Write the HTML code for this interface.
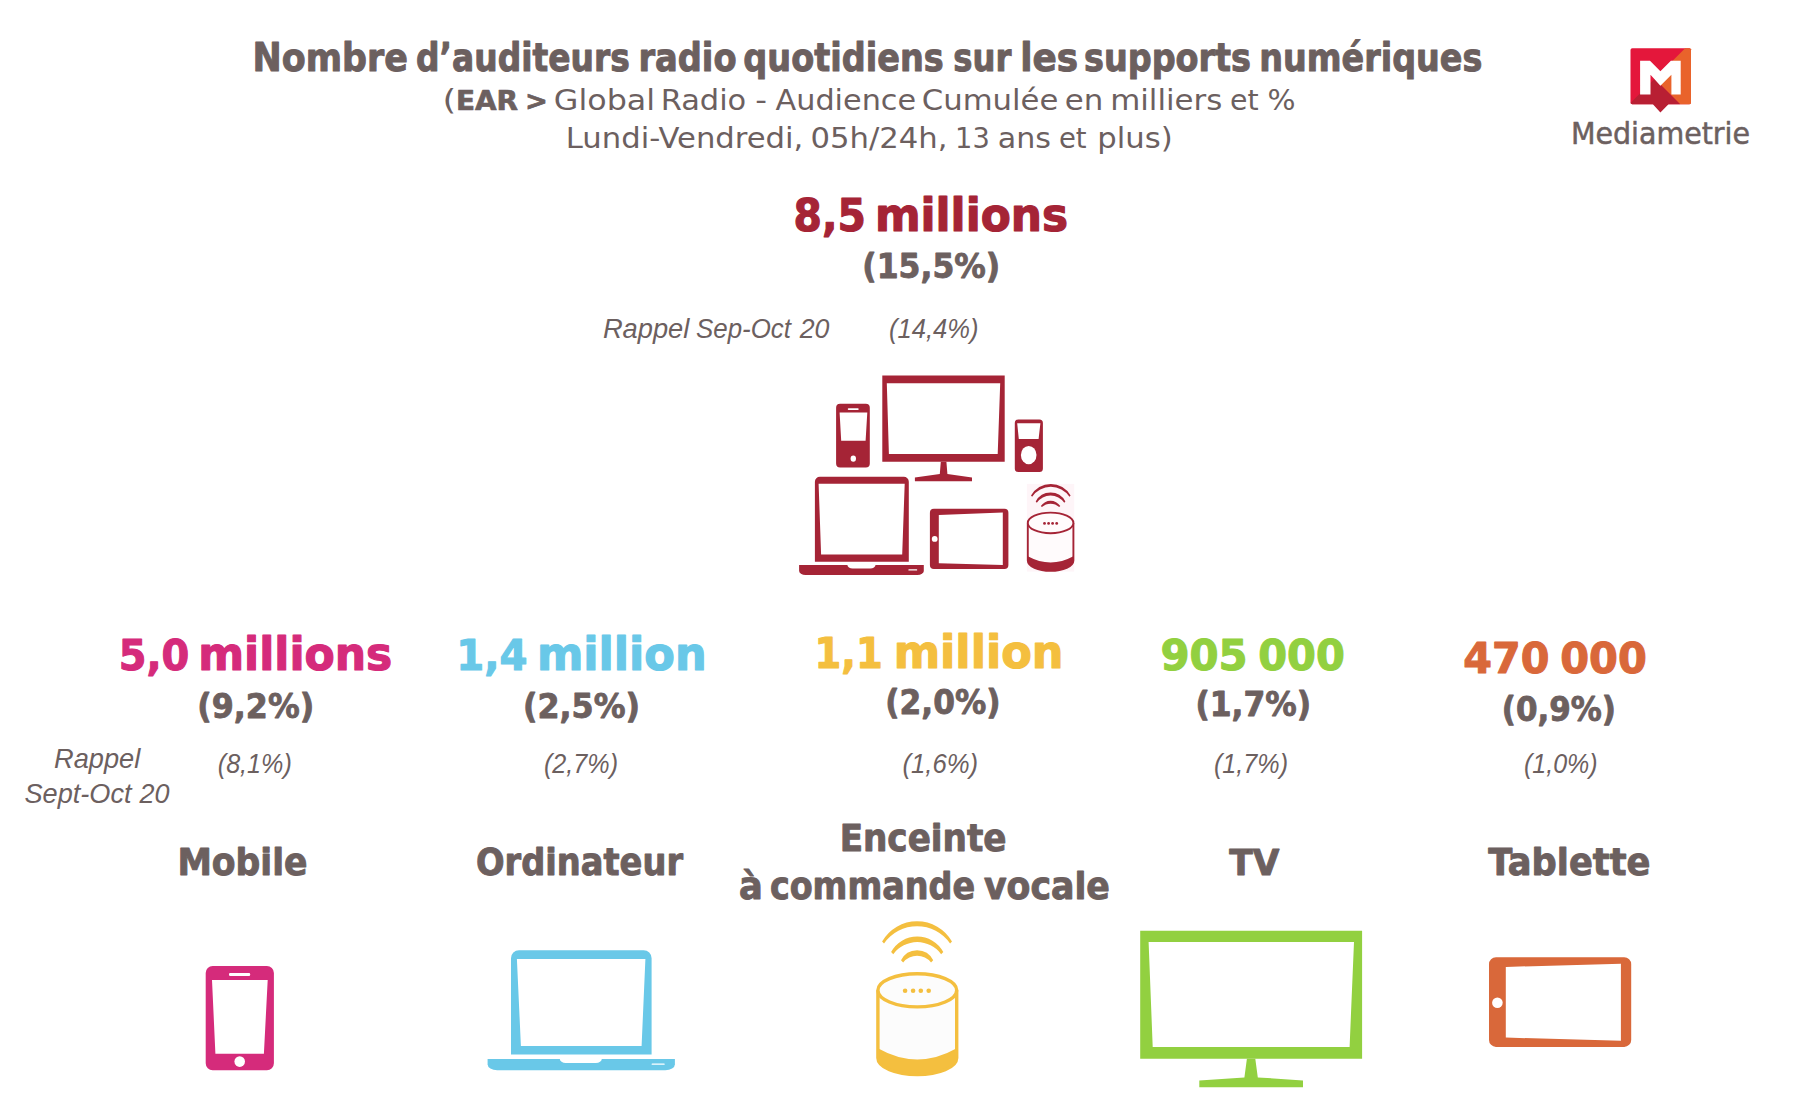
<!DOCTYPE html>
<html lang="fr"><head><meta charset="utf-8"><title>Nombre d’auditeurs radio quotidiens sur les supports numériques</title>
<style>html,body{margin:0;padding:0;background:#fff;}body{width:1800px;height:1120px;overflow:hidden;font-family:"Liberation Sans","DejaVu Sans",sans-serif;}svg{display:block}text{white-space:pre}</style>
</head><body>
<svg width="1800" height="1120" viewBox="0 0 1800 1120">
<rect width="1800" height="1120" fill="#fff"/>
<g id="icons">
<path fill="#A52436" fill-rule="evenodd" d="M882.3,375.4 L1004.7,375.4 L1004.7,461.7 L882.3,461.7ZM886.8,383.2 L1000.2,383.2 L997.7,454.1 L888.9,454.1Z"/><polygon fill="#A52436" points="940.8,461.7 946.4,461.7 947.4,474.0 972.0,477.6 972.0,481.2 914.9,481.2 914.9,477.6 939.8,474.0"/>
<path fill="#A52436" fill-rule="evenodd" d="M840.1,403.7H865.8A4,4 0 0 1 869.8,407.7V463.4A4,4 0 0 1 865.8,467.4H840.1A4,4 0 0 1 836.1,463.4V407.7A4,4 0 0 1 840.1,403.7ZM839.6,412.4 L867.3,412.4 L865.6,440.7 L841.2,440.7ZM848.6,408.2H857.9A0.8,0.8 0 0 1 858.7,409.0V409.2A0.8,0.8 0 0 1 857.9,410.0H848.6A0.8,0.8 0 0 1 847.8,409.2V409.0A0.8,0.8 0 0 1 848.6,408.2Z"/><ellipse cx="853.3" cy="458.6" rx="2.7" ry="3.2" fill="#fff"/>
<path fill="#A52436" fill-rule="evenodd" d="M1018.3,419.4H1039.4A3.5,3.5 0 0 1 1042.9,422.9V468.4A3.5,3.5 0 0 1 1039.4,471.9H1018.3A3.5,3.5 0 0 1 1014.8,468.4V422.9A3.5,3.5 0 0 1 1018.3,419.4ZM1017.2,423.3 L1040.4,423.3 L1038.6,439.1 L1018.8,439.1Z"/><ellipse cx="1028.7" cy="455.1" rx="7.8" ry="9.2" fill="#fff"/>
<path fill="#A52436" fill-rule="evenodd" d="M814.9,561.7V481.7A5,5 0 0 1 819.9,476.7H903.8A5,5 0 0 1 908.8,481.7V561.7ZM818.6,483.8 L904.7,483.8 L902.2,554.5 L821.1,554.5Z"/><path fill="#A52436" d="M799.1,565.0H923.8V571.0A6.4,4 0 0 1 917.4,575.0H805.5A6.4,4 0 0 1 799.1,571.0Z"/><path fill="#fff" d="M847.4,564.5H875.5V565A5.2,3.5 0 0 1 870.2,568.5H852.6A5.2,3.5 0 0 1 847.4,565Z"/><rect fill="#fff" x="908.4" y="569.3" width="8.8" height="1.2" rx="0.5"/>
<path fill="#A52436" fill-rule="evenodd" d="M933.9,508.7H1004.4A4,4 0 0 1 1008.4,512.7V565.1A4,4 0 0 1 1004.4,569.1H933.9A4,4 0 0 1 929.9,565.1V512.7A4,4 0 0 1 933.9,508.7ZM938.8,515.1 L1002.8,512.4 L1002.8,565.0 L938.8,563.3Z"/><circle cx="934.7" cy="538.9" r="2.9" fill="#fff"/>
<rect x="1026.9" y="483.9" width="47.3" height="87.7" fill="#FEF5F8"/><path fill="#FFFBFC" d="M1027.8,522.9A22.8,10.3 0 0 1 1073.3999999999999,522.9V560.6A22.8,10.3 0 0 1 1027.8,560.6Z"/><path fill="#A52436" d="M1027.8,556.2Q1050.6,568.5999999999999 1073.3999999999999,556.2V560.6A22.8,10.3 0 0 1 1027.8,560.6Z"/><path fill="none" stroke="#A52436" stroke-width="1.9" d="M1027.8,522.9V560.6A22.8,10.3 0 0 0 1073.3999999999999,560.6V522.9"/><ellipse cx="1050.6" cy="522.9" rx="22.8" ry="10.3" fill="#FFFBFC" stroke="#A52436" stroke-width="1.9"/><circle cx="1044.5" cy="523.4" r="1.4" fill="#A52436"/><circle cx="1048.6" cy="523.4" r="1.4" fill="#A52436"/><circle cx="1052.6" cy="523.4" r="1.4" fill="#A52436"/><circle cx="1056.7" cy="523.4" r="1.4" fill="#A52436"/><path fill="#A52436" d="M1031.00,495.60A22.60,22.60 0 0 1 1070.60,495.60L1069.48,496.72A22.56,22.56 0 0 0 1032.12,496.72Z"/><path fill="#A52436" d="M1035.70,501.60A16.75,16.75 0 0 1 1065.40,501.60L1064.28,502.72A16.68,16.68 0 0 0 1036.82,502.72Z"/><path fill="#A52436" d="M1040.80,506.00A11.74,11.74 0 0 1 1060.30,506.00L1059.18,507.12A12.62,12.62 0 0 0 1041.92,507.12Z"/>
<path fill="#D52B7B" fill-rule="evenodd" d="M212.7,966.0H266.9A7,7 0 0 1 273.9,973.0V1063.3A7,7 0 0 1 266.9,1070.3H212.7A7,7 0 0 1 205.7,1063.3V973.0A7,7 0 0 1 212.7,966.0ZM212.0,980.0 L267.7,980.0 L263.9,1053.8 L215.4,1053.8ZM230.2,972.9H249.0A1.2,1.2 0 0 1 250.2,974.1V974.8A1.2,1.2 0 0 1 249.0,976.0H230.2A1.2,1.2 0 0 1 229.0,974.8V974.1A1.2,1.2 0 0 1 230.2,972.9Z"/><ellipse cx="239.7" cy="1061.6" rx="5.3" ry="5.3" fill="#fff"/>
<path fill="#69C8E8" fill-rule="evenodd" d="M511.0,1054.4V958.2A8,8 0 0 1 519.0,950.2H643.6A8,8 0 0 1 651.6,958.2V1054.4ZM516.9,958.9 L645.4,958.9 L641.6,1046.0 L520.9,1046.0Z"/><path fill="#69C8E8" d="M487.6,1059.0H674.9V1064.3A9.6,6 0 0 1 665.3,1070.3H497.2A9.6,6 0 0 1 487.6,1064.3Z"/><path fill="#fff" d="M559.8,1058.5H601.8V1059A6.0,4.0 0 0 1 595.8,1063H565.8A6.0,4.0 0 0 1 559.8,1059Z"/><rect fill="#fff" x="651.6" y="1063.4" width="13.1" height="1.3" rx="0.5"/>
<path fill="#FCFCFC" d="M877.9,990.3A39.4,16.6 0 0 1 956.6999999999999,990.3V1058.0A39.4,16.6 0 0 1 877.9,1058.0Z"/><path fill="#F4BF3F" d="M877.9,1048.2Q917.3,1070.6000000000001 956.6999999999999,1048.2V1058.0A39.4,16.6 0 0 1 877.9,1058.0Z"/><path fill="none" stroke="#F4BF3F" stroke-width="3.4" d="M877.9,990.3V1058.0A39.4,16.6 0 0 0 956.6999999999999,1058.0V990.3"/><ellipse cx="917.3" cy="990.3" rx="39.4" ry="16.6" fill="#FCFCFC" stroke="#F4BF3F" stroke-width="3.4"/><circle cx="905.1" cy="990.8" r="2.3" fill="#F4BF3F"/><circle cx="913.1" cy="990.8" r="2.3" fill="#F4BF3F"/><circle cx="920.8" cy="990.8" r="2.3" fill="#F4BF3F"/><circle cx="928.7" cy="990.8" r="2.3" fill="#F4BF3F"/><path fill="#F4BF3F" d="M882.10,941.50A40.24,40.24 0 0 1 952.00,941.50L950.08,943.42A40.27,40.27 0 0 0 884.02,943.42Z"/><path fill="#F4BF3F" d="M891.10,952.00A29.72,29.72 0 0 1 943.30,952.00L941.14,954.16A29.81,29.81 0 0 0 893.26,954.16Z"/><path fill="#F4BF3F" d="M901.00,960.30A17.88,17.88 0 0 1 933.20,960.30L931.04,962.46A17.93,17.93 0 0 0 903.16,962.46Z"/>
<path fill="#92D040" fill-rule="evenodd" d="M1140.2,930.8 L1362.1,930.8 L1362.1,1058.7 L1140.2,1058.7ZM1148.6,942.0 L1354.0,942.0 L1349.6,1046.9 L1152.7,1046.9Z"/><polygon fill="#92D040" points="1246.9,1058.7 1255.3,1058.7 1257.8,1077.4 1303.0,1080.5 1303.0,1087.3 1199.3,1087.3 1199.3,1080.5 1244.4,1077.4"/>
<path fill="#D9683A" fill-rule="evenodd" d="M1496.0,957.3H1624.2A7,7 0 0 1 1631.2,964.3V1039.9A7,7 0 0 1 1624.2,1046.9H1496.0A7,7 0 0 1 1489.0,1039.9V964.3A7,7 0 0 1 1496.0,957.3ZM1505.8,966.9 L1620.9,963.8 L1620.9,1040.7 L1505.8,1037.6Z"/><circle cx="1497.4" cy="1002.7" r="5.3" fill="#fff"/>
<path fill="#E4173B" d="M1632.3,48.3H1689.2A1.8,1.8 0 0 1 1691.0,50.1V102.5A1.8,1.8 0 0 1 1689.2,104.3H1632.3A1.8,1.8 0 0 1 1630.5,102.5V50.1A1.8,1.8 0 0 1 1632.3,48.3Z"/><polygon fill="#E9632B" points="1654.6,78.8 1685.1,48.3 1690.0,48.3 1691.0,49.3 1691.0,103.3 1690.0,104.3 1680.1,104.3"/><polygon fill="#B81F33" points="1654.6,78.8 1680.1,104.3 1668.5,104.3 1660.4,112.4 1652.9,104.3 1632.0,104.3 1630.5,102.9"/><polygon fill="#fff" points="1640.1,60.8 1650.0,60.8 1660.4,71.2 1670.9,60.8 1680.7,60.8 1680.7,94.4 1671.4,94.4 1671.4,74.7 1660.4,85.7 1650.5,74.7 1650.5,94.4 1640.1,94.4"/>
</g>
<g id="texts">
<text id="title" y="71.00" font-family="'DejaVu Sans', 'Liberation Sans', sans-serif" fill="#6C605F" stroke-linejoin="round"><tspan id="title_0" x="252.53" textLength="155.40" lengthAdjust="spacingAndGlyphs" font-size="38.46" font-weight="bold" stroke="#6C605F" stroke-width="1.00">Nombre</tspan> <tspan id="title_1" x="416.09" textLength="213.62" lengthAdjust="spacingAndGlyphs" font-size="39.04" font-weight="bold" stroke="#6C605F" stroke-width="1.02">d’auditeurs</tspan> <tspan id="title_2" x="638.41" textLength="98.14" lengthAdjust="spacingAndGlyphs" font-size="39.04" font-weight="bold" stroke="#6C605F" stroke-width="1.02">radio</tspan> <tspan id="title_3" x="743.29" textLength="200.42" lengthAdjust="spacingAndGlyphs" font-size="39.04" font-weight="bold" stroke="#6C605F" stroke-width="1.02">quotidiens</tspan> <tspan id="title_4" x="953.25" textLength="58.05" lengthAdjust="spacingAndGlyphs" font-size="39.04" font-weight="bold" stroke="#6C605F" stroke-width="1.02">sur</tspan> <tspan id="title_5" x="1020.31" textLength="57.89" lengthAdjust="spacingAndGlyphs" font-size="39.04" font-weight="bold" stroke="#6C605F" stroke-width="1.02">les</tspan> <tspan id="title_6" x="1083.99" textLength="167.02" lengthAdjust="spacingAndGlyphs" font-size="39.04" font-weight="bold" stroke="#6C605F" stroke-width="1.02">supports</tspan> <tspan id="title_7" x="1259.26" textLength="223.06" lengthAdjust="spacingAndGlyphs" font-size="39.04" font-weight="bold" stroke="#6C605F" stroke-width="1.02">numériques</tspan></text>
<text id="l2" y="110.00" font-family="'DejaVu Sans', 'Liberation Sans', sans-serif" fill="#6C605F" stroke-linejoin="round"><tspan id="l2_0" x="442.51" textLength="13.78" lengthAdjust="spacingAndGlyphs" font-size="27.63">(</tspan> <tspan id="l2_1" x="455.91" textLength="62.11" lengthAdjust="spacingAndGlyphs" font-size="27.09" font-weight="bold" stroke="#6C605F" stroke-width="0.70">EAR</tspan> <tspan id="l2_2" x="525.06" textLength="22.87" lengthAdjust="spacingAndGlyphs" font-size="27.09" font-weight="bold" stroke="#6C605F" stroke-width="0.70">&gt;</tspan> <tspan id="l2_3" x="553.89" textLength="101.24" lengthAdjust="spacingAndGlyphs" font-size="27.63">Global</tspan> <tspan id="l2_4" x="660.70" textLength="85.58" lengthAdjust="spacingAndGlyphs" font-size="27.63">Radio</tspan> <tspan id="l2_5" x="755.36" textLength="11.72" lengthAdjust="spacingAndGlyphs" font-size="27.63">-</tspan> <tspan id="l2_6" x="775.49" textLength="140.64" lengthAdjust="spacingAndGlyphs" font-size="27.63">Audience</tspan> <tspan id="l2_7" x="921.74" textLength="136.61" lengthAdjust="spacingAndGlyphs" font-size="27.63">Cumulée</tspan> <tspan id="l2_8" x="1064.87" textLength="38.57" lengthAdjust="spacingAndGlyphs" font-size="27.63">en</tspan> <tspan id="l2_9" x="1110.21" textLength="112.13" lengthAdjust="spacingAndGlyphs" font-size="27.63">milliers</tspan> <tspan id="l2_10" x="1230.14" textLength="28.60" lengthAdjust="spacingAndGlyphs" font-size="27.63">et</tspan> <tspan id="l2_11" x="1267.59" textLength="28.01" lengthAdjust="spacingAndGlyphs" font-size="27.63">%</tspan></text>
<text id="l3" y="148.30" font-family="'DejaVu Sans', 'Liberation Sans', sans-serif" fill="#6C605F" stroke-linejoin="round"><tspan id="l3_0" x="565.72" textLength="237.66" lengthAdjust="spacingAndGlyphs" font-size="27.98">Lundi-Vendredi,</tspan> <tspan id="l3_1" x="810.45" textLength="137.16" lengthAdjust="spacingAndGlyphs" font-size="27.98">05h/24h,</tspan> <tspan id="l3_2" x="955.12" textLength="34.62" lengthAdjust="spacingAndGlyphs" font-size="27.98">13</tspan> <tspan id="l3_3" x="997.87" textLength="53.19" lengthAdjust="spacingAndGlyphs" font-size="27.98">ans</tspan> <tspan id="l3_4" x="1058.95" textLength="27.67" lengthAdjust="spacingAndGlyphs" font-size="27.98">et</tspan> <tspan id="l3_5" x="1097.31" textLength="75.38" lengthAdjust="spacingAndGlyphs" font-size="27.98">plus)</tspan></text>
<text id="big" y="230.80" font-family="'DejaVu Sans', 'Liberation Sans', sans-serif" fill="#A52436" stroke-linejoin="round"><tspan id="big_0" x="793.50" textLength="72.28" lengthAdjust="spacingAndGlyphs" font-size="43.90" font-weight="bold" stroke="#A52436" stroke-width="1.14">8,5</tspan> <tspan id="big_1" x="874.92" textLength="193.15" lengthAdjust="spacingAndGlyphs" font-size="46.79" font-weight="bold" stroke="#A52436" stroke-width="1.22">millions</tspan></text>
<text id="bigp" y="277.80" font-family="'DejaVu Sans', 'Liberation Sans', sans-serif" fill="#6C605F" stroke-linejoin="round"><tspan id="bigp_0" x="862.31" textLength="137.95" lengthAdjust="spacingAndGlyphs" font-size="34.29" font-weight="bold" stroke="#6C605F" stroke-width="0.89">(15,5%)</tspan></text>
<text id="rap" y="337.80" font-family="'Liberation Sans', 'DejaVu Sans', sans-serif" fill="#6C605F" stroke-linejoin="round" font-style="italic"><tspan id="rap_0" x="602.89" textLength="86.44" lengthAdjust="spacingAndGlyphs" font-size="27.62">Rappel</tspan> <tspan id="rap_1" x="696.00" textLength="95.00" lengthAdjust="spacingAndGlyphs" font-size="27.62">Sep-Oct</tspan> <tspan id="rap_2" x="799.70" textLength="29.70" lengthAdjust="spacingAndGlyphs" font-size="27.62">20</tspan></text>
<text id="rapp" y="337.80" font-family="'Liberation Sans', 'DejaVu Sans', sans-serif" fill="#6C605F" stroke-linejoin="round" font-style="italic"><tspan id="rapp_0" x="888.97" textLength="89.49" lengthAdjust="spacingAndGlyphs" font-size="27.62">(14,4%)</tspan></text>
<text id="n1" y="670.00" font-family="'DejaVu Sans', 'Liberation Sans', sans-serif" fill="#D52B7B" stroke-linejoin="round"><tspan id="n1_0" x="118.67" textLength="70.62" lengthAdjust="spacingAndGlyphs" font-size="43.48" font-weight="bold" stroke="#D52B7B" stroke-width="1.13">5,0</tspan> <tspan id="n1_1" x="198.23" textLength="194.10" lengthAdjust="spacingAndGlyphs" font-size="46.35" font-weight="bold" stroke="#D52B7B" stroke-width="1.21">millions</tspan></text>
<text id="p1" y="717.50" font-family="'DejaVu Sans', 'Liberation Sans', sans-serif" fill="#6C605F" stroke-linejoin="round"><tspan id="p1_0" x="197.22" textLength="116.96" lengthAdjust="spacingAndGlyphs" font-size="33.61" font-weight="bold" stroke="#6C605F" stroke-width="0.87">(9,2%)</tspan></text>
<text id="r1a" y="768.30" font-family="'Liberation Sans', 'DejaVu Sans', sans-serif" fill="#6C605F" stroke-linejoin="round" font-style="italic"><tspan id="r1a_0" x="54.00" textLength="86.30" lengthAdjust="spacingAndGlyphs" font-size="27.33">Rappel</tspan></text>
<text id="r1b" y="802.50" font-family="'Liberation Sans', 'DejaVu Sans', sans-serif" fill="#6C605F" stroke-linejoin="round" font-style="italic"><tspan id="r1b_0" x="24.50" textLength="107.00" lengthAdjust="spacingAndGlyphs" font-size="27.33">Sept-Oct</tspan> <tspan id="r1b_1" x="139.50" textLength="30.00" lengthAdjust="spacingAndGlyphs" font-size="27.33">20</tspan></text>
<text id="q1" y="773.00" font-family="'Liberation Sans', 'DejaVu Sans', sans-serif" fill="#6C605F" stroke-linejoin="round" font-style="italic"><tspan id="q1_0" x="217.75" textLength="74.09" lengthAdjust="spacingAndGlyphs" font-size="27.33">(8,1%)</tspan></text>
<text id="c1" y="874.50" font-family="'DejaVu Sans', 'Liberation Sans', sans-serif" fill="#6C605F" stroke-linejoin="round"><tspan id="c1_0" x="177.43" textLength="130.10" lengthAdjust="spacingAndGlyphs" font-size="37.02" font-weight="bold" stroke="#6C605F" stroke-width="0.96">Mobile</tspan></text>
<text id="n2" y="670.00" font-family="'DejaVu Sans', 'Liberation Sans', sans-serif" fill="#69C8E8" stroke-linejoin="round"><tspan id="n2_0" x="456.25" textLength="71.33" lengthAdjust="spacingAndGlyphs" font-size="43.48" font-weight="bold" stroke="#69C8E8" stroke-width="1.13">1,4</tspan> <tspan id="n2_1" x="536.89" textLength="169.81" lengthAdjust="spacingAndGlyphs" font-size="46.35" font-weight="bold" stroke="#69C8E8" stroke-width="1.21">million</tspan></text>
<text id="p2" y="717.50" font-family="'DejaVu Sans', 'Liberation Sans', sans-serif" fill="#6C605F" stroke-linejoin="round"><tspan id="p2_0" x="522.93" textLength="117.15" lengthAdjust="spacingAndGlyphs" font-size="33.61" font-weight="bold" stroke="#6C605F" stroke-width="0.87">(2,5%)</tspan></text>
<text id="q2" y="773.00" font-family="'Liberation Sans', 'DejaVu Sans', sans-serif" fill="#6C605F" stroke-linejoin="round" font-style="italic"><tspan id="q2_0" x="543.97" textLength="74.06" lengthAdjust="spacingAndGlyphs" font-size="27.33">(2,7%)</tspan></text>
<text id="c2" y="874.50" font-family="'DejaVu Sans', 'Liberation Sans', sans-serif" fill="#6C605F" stroke-linejoin="round"><tspan id="c2_0" x="476.00" textLength="207.02" lengthAdjust="spacingAndGlyphs" font-size="37.02" font-weight="bold" stroke="#6C605F" stroke-width="0.96">Ordinateur</tspan></text>
<text id="n3" y="667.70" font-family="'DejaVu Sans', 'Liberation Sans', sans-serif" fill="#F4BF3F" stroke-linejoin="round"><tspan id="n3_0" x="814.53" textLength="68.21" lengthAdjust="spacingAndGlyphs" font-size="43.48" font-weight="bold" stroke="#F4BF3F" stroke-width="1.13">1,1</tspan> <tspan id="n3_1" x="893.67" textLength="169.87" lengthAdjust="spacingAndGlyphs" font-size="46.35" font-weight="bold" stroke="#F4BF3F" stroke-width="1.21">million</tspan></text>
<text id="p3" y="714.30" font-family="'DejaVu Sans', 'Liberation Sans', sans-serif" fill="#6C605F" stroke-linejoin="round"><tspan id="p3_0" x="885.31" textLength="115.26" lengthAdjust="spacingAndGlyphs" font-size="33.61" font-weight="bold" stroke="#6C605F" stroke-width="0.87">(2,0%)</tspan></text>
<text id="q3" y="773.20" font-family="'Liberation Sans', 'DejaVu Sans', sans-serif" fill="#6C605F" stroke-linejoin="round" font-style="italic"><tspan id="q3_0" x="902.43" textLength="75.76" lengthAdjust="spacingAndGlyphs" font-size="27.33">(1,6%)</tspan></text>
<text id="c3a" y="850.90" font-family="'DejaVu Sans', 'Liberation Sans', sans-serif" fill="#6C605F" stroke-linejoin="round"><tspan id="c3a_0" x="839.65" textLength="166.87" lengthAdjust="spacingAndGlyphs" font-size="37.02" font-weight="bold" stroke="#6C605F" stroke-width="0.96">Enceinte</tspan></text>
<text id="c3b" y="898.60" font-family="'DejaVu Sans', 'Liberation Sans', sans-serif" fill="#6C605F" stroke-linejoin="round"><tspan id="c3b_0" x="738.94" textLength="23.77" lengthAdjust="spacingAndGlyphs" font-size="37.58" font-weight="bold" stroke="#6C605F" stroke-width="0.98">à</tspan> <tspan id="c3b_1" x="769.89" textLength="205.22" lengthAdjust="spacingAndGlyphs" font-size="37.58" font-weight="bold" stroke="#6C605F" stroke-width="0.98">commande</tspan> <tspan id="c3b_2" x="983.90" textLength="126.02" lengthAdjust="spacingAndGlyphs" font-size="37.58" font-weight="bold" stroke="#6C605F" stroke-width="0.98">vocale</tspan></text>
<text id="n4" y="669.50" font-family="'DejaVu Sans', 'Liberation Sans', sans-serif" fill="#92D040" stroke-linejoin="round"><tspan id="n4_0" x="1160.42" textLength="87.22" lengthAdjust="spacingAndGlyphs" font-size="43.48" font-weight="bold" stroke="#92D040" stroke-width="1.13">905</tspan> <tspan id="n4_1" x="1258.25" textLength="86.61" lengthAdjust="spacingAndGlyphs" font-size="43.48" font-weight="bold" stroke="#92D040" stroke-width="1.13">000</tspan></text>
<text id="p4" y="716.30" font-family="'DejaVu Sans', 'Liberation Sans', sans-serif" fill="#6C605F" stroke-linejoin="round"><tspan id="p4_0" x="1195.40" textLength="115.77" lengthAdjust="spacingAndGlyphs" font-size="33.61" font-weight="bold" stroke="#6C605F" stroke-width="0.87">(1,7%)</tspan></text>
<text id="q4" y="773.00" font-family="'Liberation Sans', 'DejaVu Sans', sans-serif" fill="#6C605F" stroke-linejoin="round" font-style="italic"><tspan id="q4_0" x="1213.97" textLength="74.06" lengthAdjust="spacingAndGlyphs" font-size="27.33">(1,7%)</tspan></text>
<text id="c4" y="874.50" font-family="'DejaVu Sans', 'Liberation Sans', sans-serif" fill="#6C605F" stroke-linejoin="round"><tspan id="c4_0" x="1229.30" textLength="50.20" lengthAdjust="spacingAndGlyphs" font-size="35.25" font-weight="bold" stroke="#6C605F" stroke-width="0.92">TV</tspan></text>
<text id="n5" y="673.30" font-family="'DejaVu Sans', 'Liberation Sans', sans-serif" fill="#D9683A" stroke-linejoin="round"><tspan id="n5_0" x="1463.24" textLength="86.11" lengthAdjust="spacingAndGlyphs" font-size="43.48" font-weight="bold" stroke="#D9683A" stroke-width="1.13">470</tspan> <tspan id="n5_1" x="1560.24" textLength="86.61" lengthAdjust="spacingAndGlyphs" font-size="43.48" font-weight="bold" stroke="#D9683A" stroke-width="1.13">000</tspan></text>
<text id="p5" y="720.50" font-family="'DejaVu Sans', 'Liberation Sans', sans-serif" fill="#6C605F" stroke-linejoin="round"><tspan id="p5_0" x="1501.72" textLength="114.27" lengthAdjust="spacingAndGlyphs" font-size="33.61" font-weight="bold" stroke="#6C605F" stroke-width="0.87">(0,9%)</tspan></text>
<text id="q5" y="773.00" font-family="'Liberation Sans', 'DejaVu Sans', sans-serif" fill="#6C605F" stroke-linejoin="round" font-style="italic"><tspan id="q5_0" x="1523.97" textLength="73.65" lengthAdjust="spacingAndGlyphs" font-size="27.33">(1,0%)</tspan></text>
<text id="c5" y="874.50" font-family="'DejaVu Sans', 'Liberation Sans', sans-serif" fill="#6C605F" stroke-linejoin="round"><tspan id="c5_0" x="1488.29" textLength="162.11" lengthAdjust="spacingAndGlyphs" font-size="37.02" font-weight="bold" stroke="#6C605F" stroke-width="0.96">Tablette</tspan></text>
<text id="logo" y="144.30" font-family="'DejaVu Sans', 'Liberation Sans', sans-serif" fill="#6C605F" stroke-linejoin="round"><tspan id="logo_0" x="1570.94" textLength="179.08" lengthAdjust="spacingAndGlyphs" font-size="29.38" stroke="#6C605F" stroke-width="0.5">Mediametrie</tspan></text>
</g>
</svg>
</body></html>
